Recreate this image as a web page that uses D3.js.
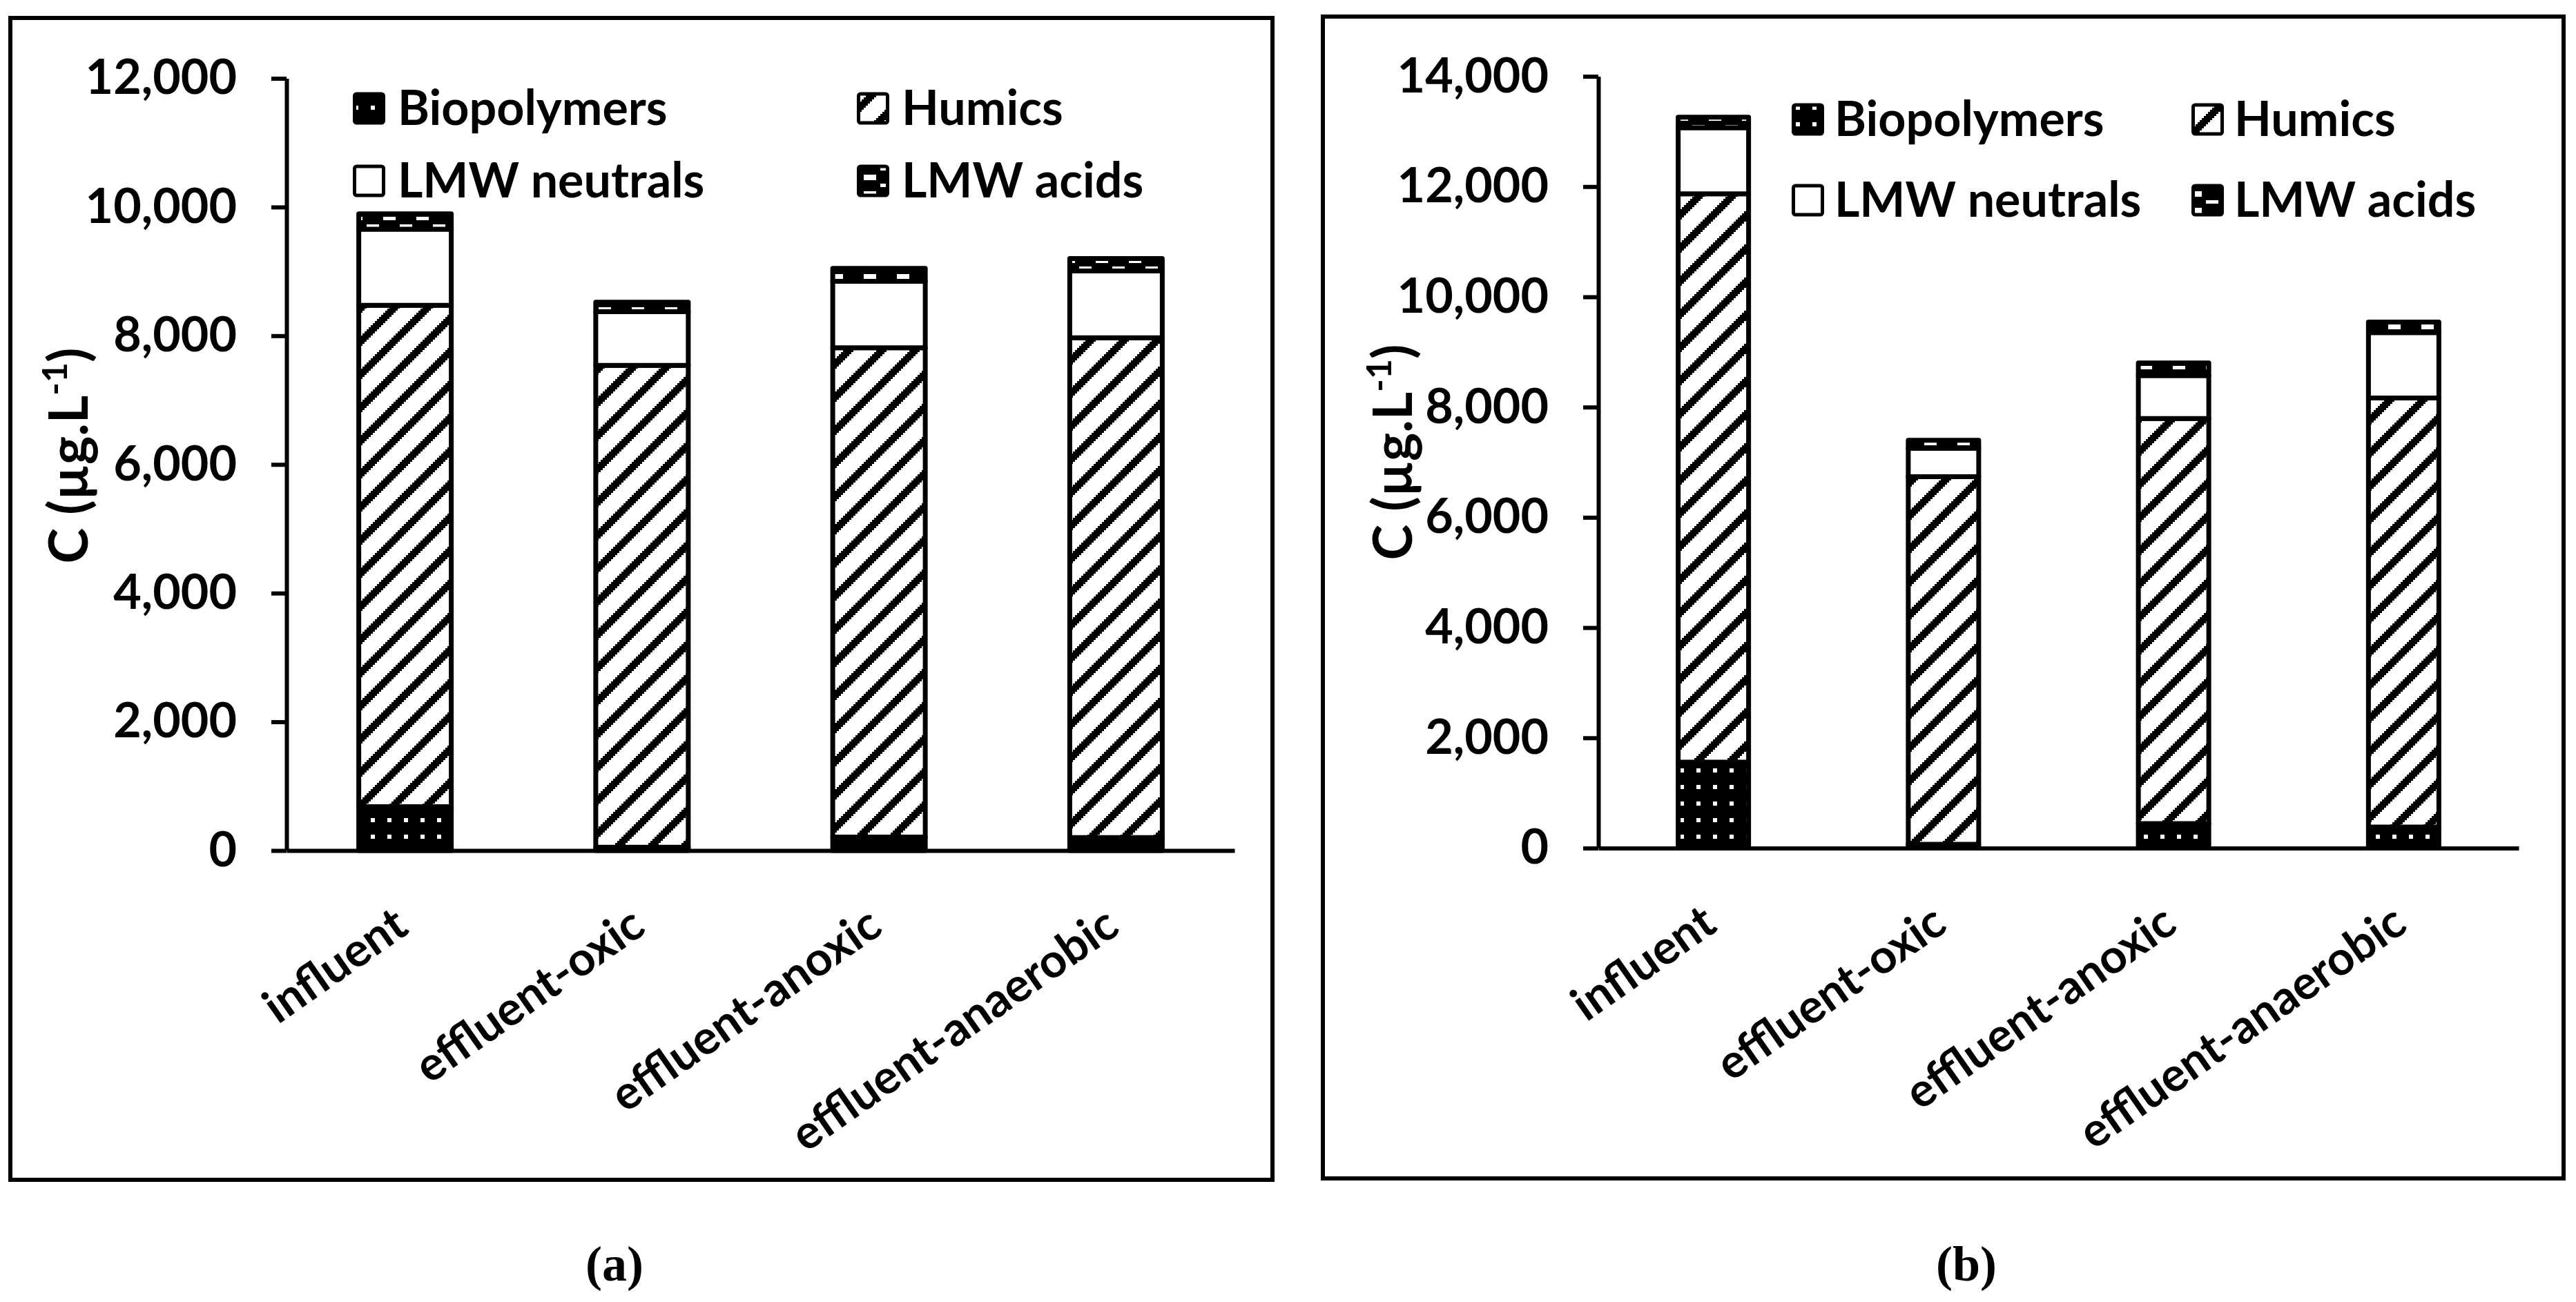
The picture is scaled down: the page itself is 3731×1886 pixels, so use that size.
<!DOCTYPE html>
<html><head><meta charset="utf-8">
<script src="https://cdn.jsdelivr.net/npm/d3@7"></script>
<style>html,body{margin:0;padding:0;background:#fff;} svg{display:block;}</style>
</head><body>
<script>
// ---------- DATA ----------
const categories = ["influent", "effluent-oxic", "effluent-anoxic", "effluent-anaerobic"];
const seriesNames = ["Biopolymers", "Humics", "LMW neutrals", "LMW acids"];

// panel (a)
const biopolymersA = [680, 50, 208, 200];
const humicsA      = [7792, 7489, 7604, 7770];
const neutralsA    = [1184, 836, 1035, 1038];
const acidsA       = [238, 145, 200, 193];
const ticksA = [0, 2000, 4000, 6000, 8000, 10000, 12000];

// panel (b)
const biopolymersB = [1560, 70, 445, 383];
const humicsB      = [10309, 6668, 7349, 7781];
const neutralsB    = [1199, 517, 777, 1187];
const acidsB       = [190, 142, 229, 192];
const ticksB = [0, 2000, 4000, 6000, 8000, 10000, 12000, 14000];

const panelLabels = ["(a)", "(b)"];
const yTitle = "C (µg.L";
const yTitleSup = "-1";

// ---------- LAYOUT ----------
const W = 3731, H = 1886;
const SANS = "Lato, 'Open Sans', sans-serif";
const SERIF = "'Liberation Serif', 'DejaVu Serif', serif";

const panels = [
  { series: [biopolymersA, humicsA, neutralsA, acidsA], ticks: ticksA, max: 12000, label: panelLabels[0],
    box: {x0: 15, y0: 26, x1: 1843, y1: 1709},
    axisX: 415, plotRight: 1788, y0: 1232, yTop: 113.5, barW: 134,
    legend: {col: [511, 1241], textOff: 65, rows: [181, 286]},
    title: {x: 127, y: 660}, lab: {x: 890, y: 1855} },
  { series: [biopolymersB, humicsB, neutralsB, acidsB], ticks: ticksB, max: 14000, label: panelLabels[1],
    box: {x0: 1916, y0: 24, x1: 3713, y1: 1707},
    axisX: 2315, plotRight: 3648, y0: 1228.5, yTop: 110.6, barW: 102,
    legend: {col: [2595, 3174], textOff: 62, rows: [197, 314]},
    title: {x: 2045, y: 655}, lab: {x: 2848, y: 1855} }
];

const svg = d3.select("body").append("svg").attr("width", W).attr("height", H);
svg.append("rect").attr("width", W).attr("height", H).attr("fill", "#fff");

// ---------- PATTERNS ----------
const defs = svg.append("defs");
function cellPattern(id, tw, th, bg, fg, rects) {
  const p = defs.append("pattern").attr("id", id).attr("patternUnits", "userSpaceOnUse")
    .attr("width", tw).attr("height", th);
  p.append("rect").attr("width", tw).attr("height", th).attr("fill", bg);
  rects.forEach(r => p.append("rect").attr("x", r[0]).attr("y", r[1]).attr("width", r[2]).attr("height", r[3]).attr("fill", fg));
}
// humics: wide upward diagonal, pixelated (16x16 cells of 3px)
const hum = [];
for (let j = 0; j < 16; j++) for (let i = 0; i < 16; i++) if (((i + j) % 16) < 5) hum.push([i * 3, j * 3, 3, 3]);
cellPattern("pHum", 48, 48, "#fff", "#000", hum);
// biopolymers: black with white dots
cellPattern("pBio", 24, 24, "#000", "#fff", [[9, 9, 6, 6]]);
// LMW acids: black with staggered white blocks
cellPattern("pAcid", 48, 24, "#000", "#fff", [[3, 13, 18, 8], [27, 2, 18, 5]]);

const fills = ["url(#pBio)", "url(#pHum)", "#fff", "url(#pAcid)"];

// ---------- DRAW ----------
panels.forEach(P => {
  const g = svg.append("g");
  // border
  g.append("rect").attr("x", P.box.x0).attr("y", P.box.y0)
    .attr("width", P.box.x1 - P.box.x0).attr("height", P.box.y1 - P.box.y0)
    .attr("fill", "none").attr("stroke", "#000").attr("stroke-width", 6);

  const table = categories.map((c, i) => {
    const o = {cat: c};
    seriesNames.forEach((s, k) => o[s] = P.series[k][i]);
    return o;
  });
  const stacked = d3.stack().keys(seriesNames)(table);

  const step = (P.plotRight - P.axisX) / categories.length;
  const pad = 1 - P.barW / step;
  const x = d3.scaleBand().domain(categories).range([P.axisX, P.plotRight])
    .paddingInner(pad).paddingOuter(pad / 2);
  const y = d3.scaleLinear().domain([0, P.max]).range([P.y0, P.yTop]);

  // bars
  stacked.forEach((layer, k) => {
    g.append("g").selectAll("rect").data(layer).join("rect")
      .attr("x", d => x(d.data.cat))
      .attr("width", x.bandwidth())
      .attr("y", d => y(d[1]))
      .attr("height", d => y(d[0]) - y(d[1]))
      .attr("fill", fills[k])
      .attr("stroke", "#000").attr("stroke-width", 7)
      .attr("stroke-linejoin", "round");
  });

  // y axis
  const ya = g.append("g").attr("transform", `translate(${P.axisX},0)`)
    .call(d3.axisLeft(y).tickValues(P.ticks).tickFormat(d3.format(",")).tickSize(22).tickSizeOuter(0).tickPadding(50));
  ya.select(".domain").attr("stroke-width", 6);
  ya.selectAll(".tick line").attr("stroke-width", 6);
  ya.selectAll("text").attr("font-family", SANS).attr("font-weight", "bold")
    .attr("font-size", 70).attr("fill", "#000");

  // x axis
  const xa = g.append("g").attr("transform", `translate(0,${P.y0})`)
    .call(d3.axisBottom(x).tickSize(0).tickSizeOuter(0));
  xa.select(".domain").attr("stroke-width", 6);
  xa.selectAll("text").attr("font-family", SANS).attr("font-weight", "bold")
    .attr("font-size", 68).attr("fill", "#000")
    .attr("text-anchor", "end").attr("x", 0).attr("y", 0).attr("dy", 0)
    .attr("transform", "translate(8,118) rotate(-35)");

  // y title
  const t = g.append("text").attr("transform", `translate(${P.title.x},${P.title.y}) rotate(-90)`)
    .attr("text-anchor", "middle").attr("font-family", SANS).attr("font-weight", "bold")
    .attr("font-size", 78).attr("fill", "#000");
  t.append("tspan").text(yTitle);
  t.append("tspan").attr("font-size", 50).attr("dy", -30).text(yTitleSup);
  t.append("tspan").attr("dy", 30).text(")");

  // legend
  seriesNames.forEach((s, k) => {
    const cx = P.legend.col[k % 2], by = P.legend.rows[Math.floor(k / 2)];
    g.append("rect").attr("x", cx + 2.5).attr("y", by - 45).attr("width", 42).attr("height", 42)
      .attr("rx", 3).attr("fill", fills[k]).attr("stroke", "#000").attr("stroke-width", 5);
    g.append("text").attr("x", cx + P.legend.textOff).attr("y", by)
      .attr("font-family", SANS).attr("font-weight", "bold").attr("font-size", 70)
      .attr("fill", "#000").text(s);
  });

  // panel label
  g.append("text").attr("x", P.lab.x).attr("y", P.lab.y).attr("text-anchor", "middle")
    .attr("font-family", SERIF).attr("font-weight", "bold").attr("font-size", 72)
    .attr("fill", "#000").text(P.label);
});
</script>
</body></html>
